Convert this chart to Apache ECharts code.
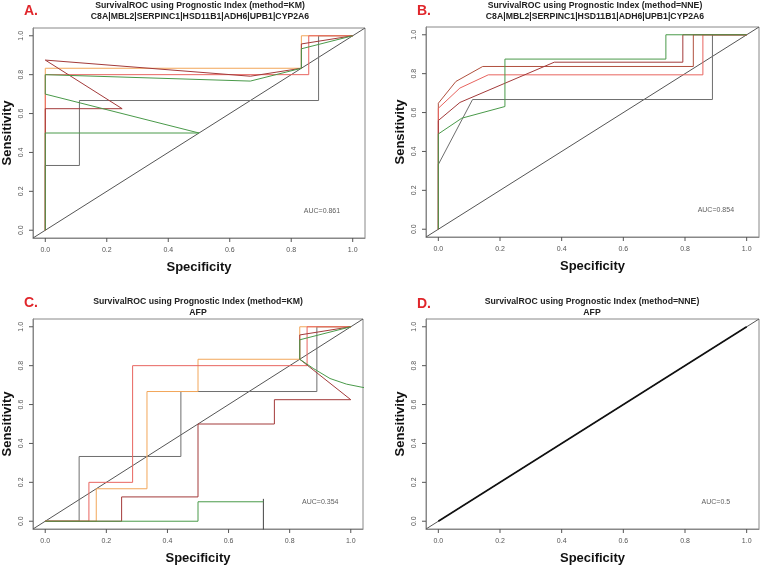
<!DOCTYPE html>
<html>
<head>
<meta charset="utf-8">
<script src="https://cdn.jsdelivr.net/npm/echarts@6/dist/echarts.min.js"></script>
<style>
html, body { margin: 0; padding: 0; background: #fff; }
#main { width: 762px; height: 567px; }
</style>
</head>
<body>
<div id="main"></div>
<script>
// shared axis ticks, plot range and reference line (abline 0,1)
const ticks = [0, 0.2, 0.4, 0.6, 0.8, 1.0];
const axisMin = -0.04, axisMax = 1.04;
const abline = [[-0.04, -0.04], [1.04, 1.04]];

// A: 7-gene signature, method=KM
const aGray = [[0, 0], [0, 0.333], [0.111, 0.333], [0.111, 0.667], [0.889, 0.667], [0.889, 1], [1, 1]];
const aOrange = [[0, 0], [0, 0.833], [0.833, 0.833], [0.833, 1], [1, 1]];
const aRed = [[0, 0], [0, 0.8], [0.857, 0.8], [0.857, 1], [1, 1]];
const aDarkred = [[0, 0], [0, 0.625], [0.25, 0.625], [0, 0.875], [0.667, 0.792], [0.833, 0.833], [0.833, 0.958], [1, 1]];
const aGreen = [[0, 0], [0, 0.5], [0.5, 0.5], [0, 0.7], [0, 0.8], [0.667, 0.767], [0.833, 0.833], [0.833, 0.933], [1, 1]];

// B: 7-gene signature, method=NNE
const bGray = [[0, 0], [0, 0.333], [0.111, 0.667], [0.889, 0.667], [0.889, 1], [1, 1]];
const bGreen = [[0, 0], [0, 0.49], [0.076, 0.571], [0.216, 0.631], [0.216, 0.875], [0.738, 0.875], [0.738, 1], [1, 1]];
const bBrown = [[0, 0], [0, 0.648], [0.057, 0.76], [0.144, 0.837], [0.827, 0.837], [0.827, 1], [1, 1]];
const bRed = [[0, 0], [0, 0.622], [0.07, 0.726], [0.162, 0.794], [0.858, 0.794], [0.858, 1], [1, 1]];
const bDarkred = [[0, 0], [0, 0.559], [0.07, 0.652], [0.376, 0.859], [0.793, 0.859], [0.793, 1], [1, 1]];

// C: AFP, method=KM
const cGray = [[0, 0], [0.111, 0], [0.111, 0.333], [0.444, 0.333], [0.444, 0.667], [0.889, 0.667], [0.889, 1], [1, 1]];
const cGrayTail = [[0.714, 0.115], [0.714, -0.1]];
const cOrange = [[0, 0], [0.167, 0], [0.167, 0.167], [0.333, 0.167], [0.333, 0.667], [0.5, 0.667], [0.5, 0.833], [0.833, 0.833], [0.833, 1], [1, 1]];
const cRed = [[0, 0], [0.143, 0], [0.143, 0.2], [0.286, 0.2], [0.286, 0.8], [0.857, 0.8], [0.857, 1], [1, 1]];
const cDarkred = [[0, 0], [0.25, 0], [0.25, 0.125], [0.5, 0.125], [0.5, 0.5], [0.75, 0.5], [0.75, 0.625], [1, 0.625], [0.833, 0.833], [0.833, 0.958], [1, 1]];
const cGreen = [[0, 0], [0.5, 0], [0.5, 0.1], [0.714, 0.1]];
const cGreenArc = [[1.06, 0.684], [1.04, 0.688], [0.986, 0.705], [0.932, 0.734], [0.877, 0.786], [0.833, 0.833], [0.833, 0.933], [1, 1]];

// D: AFP, method=NNE
const dBlack = [[0, 0], [1, 1]];

const aucText = ["AUC=0.861", "AUC=0.854", "AUC=0.354", "AUC=0.5"];
const aucPos = [0.9, 0.1];
const panelTitles = [
  ["SurvivalROC using Prognostic Index (method=KM)", "C8A|MBL2|SERPINC1|HSD11B1|ADH6|UPB1|CYP2A6"],
  ["SurvivalROC using Prognostic Index (method=NNE)", "C8A|MBL2|SERPINC1|HSD11B1|ADH6|UPB1|CYP2A6"],
  ["SurvivalROC using Prognostic Index (method=KM)", "AFP"],
  ["SurvivalROC using Prognostic Index (method=NNE)", "AFP"],
];
const panelLetters = ["A.", "B.", "C.", "D."];

const GRAY = "#6e6e6e", ORANGE = "#f2a65a", RED = "#e8645f", DARKRED = "#a33a3a",
  GREEN = "#4a9a4a", BROWN = "#b0503e", LINE = "#555";

const grids = [
  { left: 33, top: 28, width: 332, height: 210 },
  { left: 426, top: 27, width: 333, height: 210 },
  { left: 31, top: 319, width: 332, height: 210 },
  { left: 426, top: 319, width: 333, height: 210 },
];
// title/letter anchors, x = centre of title
const titleX = [200, 595, 198, 592];
const titleY = [6, 6, 302, 302];
const letterX = [24, 417, 24, 417];
const letterY = [11, 11, 303, 304];

function curve(data, color, idx, width) {
  return {
    type: "line",
    xAxisIndex: idx,
    yAxisIndex: idx,
    data: data,
    symbol: "none",
    showSymbol: false,
    clip: true,
    silent: true,
    animation: false,
    lineStyle: { color: color, width: width || 1 },
  };
}

// tick marks drawn outside the box through the axis scales
function tickMarks(idx, horizontal) {
  return {
    type: "custom",
    xAxisIndex: idx,
    yAxisIndex: idx,
    silent: true,
    animation: false,
    clip: false,
    data: ticks.map((v) => (horizontal ? [v, axisMin] : [axisMin, v])),
    renderItem: (params, api) => {
      const p = api.coord([api.value(0), api.value(1)]);
      const shape = horizontal
        ? { x1: p[0], y1: p[1], x2: p[0], y2: p[1] + 4 }
        : { x1: p[0], y1: p[1], x2: p[0] - 4, y2: p[1] };
      return { type: "line", shape: shape, style: { stroke: "#555", lineWidth: 1 } };
    },
  };
}

const series = [
  curve(abline, LINE, 0), curve(aGray, GRAY, 0), curve(aOrange, ORANGE, 0),
  curve(aRed, RED, 0), curve(aDarkred, DARKRED, 0), curve(aGreen, GREEN, 0),

  curve(abline, LINE, 1), curve(bGray, GRAY, 1), curve(bBrown, BROWN, 1),
  curve(bRed, RED, 1), curve(bDarkred, DARKRED, 1), curve(bGreen, GREEN, 1),

  curve(abline, LINE, 2), curve(cGray, GRAY, 2), curve(cGrayTail, "#444", 2),
  curve(cOrange, ORANGE, 2), curve(cRed, RED, 2), curve(cDarkred, DARKRED, 2),
  curve(cGreen, GREEN, 2), curve(cGreenArc, GREEN, 2),

  curve(abline, LINE, 3), curve(dBlack, "#111", 3, 1.6),
];

aucText.forEach((t, i) => {
  series.push(tickMarks(i, true), tickMarks(i, false));
  series.push({
    type: "scatter",
    xAxisIndex: i,
    yAxisIndex: i,
    data: [aucPos],
    symbolSize: 0,
    silent: true,
    animation: false,
    label: {
      show: true,
      position: "inside",
      formatter: t,
      fontSize: 7,
      color: "#333",
      fontFamily: "Liberation Sans",
    },
  });
});

const graphics = [];
panelTitles.forEach((lines, i) => {
  lines.forEach((txt, j) => {
    graphics.push({
      type: "text",
      x: titleX[i],
      y: titleY[i] + j * 11,
      style: {
        text: txt,
        font: "bold 8.7px Liberation Sans",
        fill: "#222",
        textAlign: "center",
        textVerticalAlign: "middle",
        align: "center",
        verticalAlign: "middle",
      },
    });
  });
  graphics.push({
    type: "text",
    x: letterX[i],
    y: letterY[i],
    style: {
      text: panelLetters[i],
      font: "bold 14px Liberation Sans",
      fill: "#e0262b",
      textVerticalAlign: "middle",
      verticalAlign: "middle",
    },
  });
});

const fmt = (v) => v.toFixed(1);
const axisBase = {
  type: "value",
  min: axisMin,
  max: axisMax,
  axisLine: { show: true, onZero: false, lineStyle: { color: "#888", width: 1 } },
  splitLine: { show: false },
  axisTick: { show: false },
  nameLocation: "middle",
  nameTextStyle: { fontSize: 13, fontWeight: "bold", color: "#111", fontFamily: "Liberation Sans" },
};

const chart = echarts.init(document.getElementById("main"));
chart.setOption({
  animation: false,
  backgroundColor: "#fff",
  grid: grids.map((g) => Object.assign({ show: true, borderColor: "#888", borderWidth: 1, backgroundColor: "transparent" }, g)),
  xAxis: grids.map((g, i) => Object.assign({}, axisBase, {
    gridIndex: i,
    axisLabel: { customValues: ticks, formatter: fmt, fontSize: 7, color: "#555", margin: 9, fontFamily: "Liberation Sans" },
    name: "Specificity",
    nameGap: 23,
  })),
  yAxis: grids.map((g, i) => Object.assign({}, axisBase, {
    gridIndex: i,
    axisLabel: { customValues: ticks, formatter: fmt, rotate: 90, fontSize: 7, color: "#555", margin: 8, fontFamily: "Liberation Sans" },
    name: "Sensitivity",
    nameGap: 19,
  })),
  series: series,
  graphic: graphics,
});
</script>
</body>
</html>
